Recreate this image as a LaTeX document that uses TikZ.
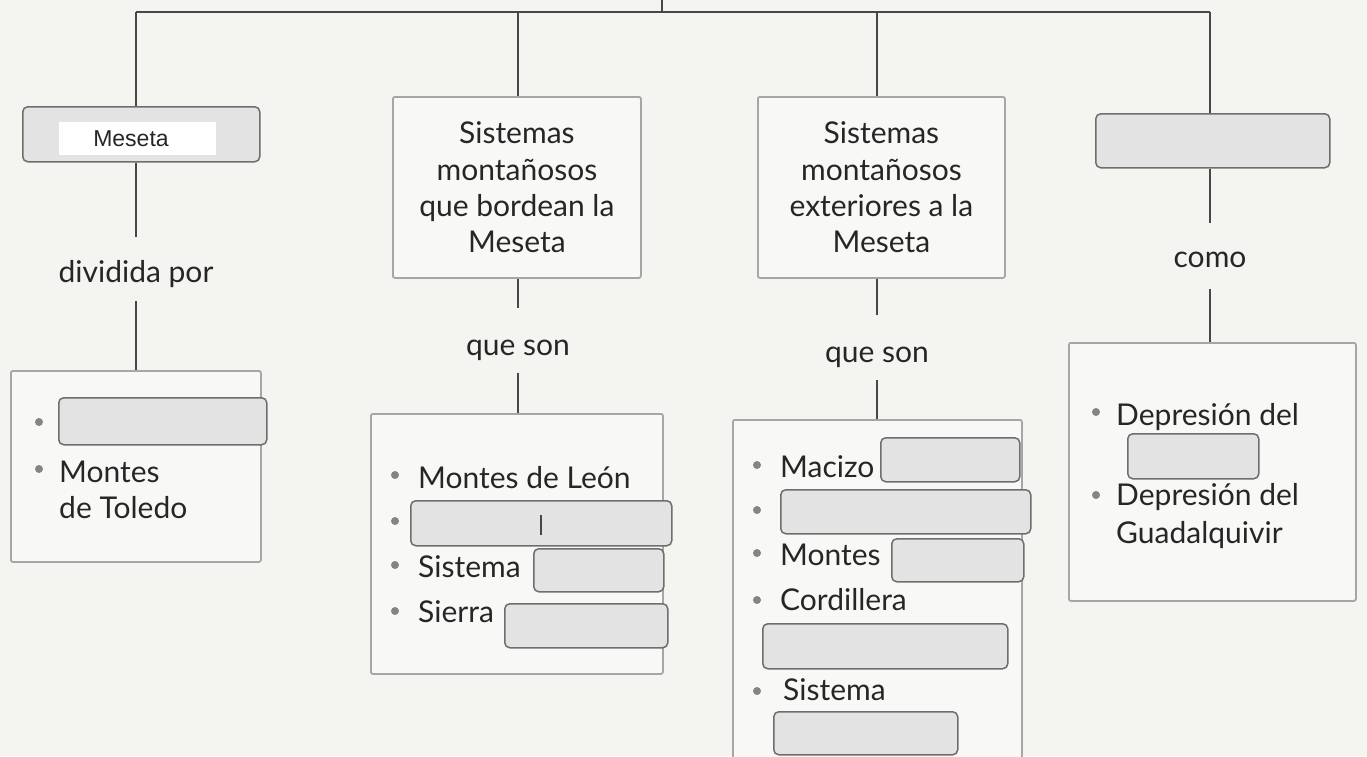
\documentclass[tikz,border=0pt]{standalone}
\usepackage{fontspec}
\setmainfont{Lato}
\newfontfamily\arialf{Liberation Sans}
\definecolor{bgc}{HTML}{F4F5F1}
\definecolor{linec}{HTML}{474747}
\definecolor{framec}{HTML}{A6A6A6}
\definecolor{blankfill}{HTML}{E3E3E3}
\definecolor{blankdraw}{HTML}{6E6E6E}
\definecolor{txtc}{HTML}{262626}
\definecolor{dotc}{HTML}{858585}
\tikzset{
  conn/.style={draw=linec, line width=2.8pt},
  framebox/.style={draw=framec, line width=1.8pt, fill=bgc!60!white, rounded corners=2pt,
    inner sep=0pt, anchor=north west, text=txtc, align=center,
    font=\fontsize{30}{36.3}\selectfont},
  blankbox/.style={draw=blankdraw, fill=blankfill, line width=1.5pt, rounded corners=5pt,
    inner sep=0pt, anchor=north west},
  lab/.style={inner sep=0pt, anchor=base, text=txtc, font=\fontsize{30}{36}\selectfont},
  item/.style={inner sep=0pt, anchor=base west, text=txtc, font=\fontsize{30}{36}\selectfont},
  bul/.style={circle, fill=dotc, inner sep=0pt, minimum size=8pt},
}
\begin{document}
\begin{tikzpicture}[x=1pt,y=-1pt]
\path[use as bounding box, fill=bgc] (0,0) rectangle (1367,756);
\clip (0,0) rectangle (1367,756);

% ---- top row ----
\node[blankbox, minimum width=237pt, minimum height=55pt] (mes) at (22,106) {};
\node[fill=white, inner sep=0pt, anchor=north west, minimum width=157pt, minimum height=33pt] (mesin) at (59,122) {};
\node[inner sep=0pt, anchor=base, text=txtc, font=\arialf\fontsize{23}{26}\selectfont] (mestxt) at (131,146) {Meseta};
\node[framebox, minimum width=248pt, minimum height=181pt] (b2) at (392,96)
  {Sistemas\\montañosos\\que bordean la\\Meseta};
\node[framebox, minimum width=247pt, minimum height=181pt] (b3) at (757,96)
  {Sistemas\\montañosos\\exteriores a la\\Meseta};
\node[blankbox, minimum width=234pt, minimum height=54pt] (b4) at (1095,113) {};

% ---- connectors from the top bar ----
\coordinate (stub) at (662,0);
\coordinate (barL) at (136,12);
\coordinate (barR) at (1210,12);
\coordinate (j2) at (518,12);
\coordinate (j3) at (877,12);
\draw[conn] (stub) -- (stub |- barL);
\draw[conn] (barL) -- (barR);
\draw[conn] (barL) -- (barL |- mes.north);
\draw[conn] (j2) -- (j2 |- b2.north);
\draw[conn] (j3) -- (j3 |- b3.north);
\draw[conn] (barR) -- (barR |- b4.north);

% ---- link labels ----
\node[lab, text height=45pt, text depth=19pt] (lab1) at (136,282) {dividida por};
\node[lab, text height=47pt, text depth=18pt] (lab2) at (518,355) {que son};
\node[lab, text height=47pt, text depth=18pt] (lab3) at (877,362) {que son};
\node[lab, text height=44pt, text depth=22pt] (lab4) at (1210,267) {como};

% ---- bottom boxes ----
\node[framebox, minimum width=250pt, minimum height=191pt] (c1) at (10,370) {};
\node[framebox, minimum width=292pt, minimum height=260pt] (c2) at (370,413) {};
\node[framebox, minimum width=289pt, minimum height=361pt] (c3) at (732,419) {};
\node[framebox, minimum width=287pt, minimum height=258pt] (c4) at (1068,342) {};

\draw[conn] (barL |- mes.south) -- (lab1.north);
\draw[conn] (lab1.south) -- (lab1.south |- c1.north);
\draw[conn] (j2 |- b2.south) -- (lab2.north);
\draw[conn] (lab2.south) -- (lab2.south |- c2.north);
\draw[conn] (j3 |- b3.south) -- (lab3.north);
\draw[conn] (lab3.south) -- (lab3.south |- c3.north);
\draw[conn] (barR |- b4.south) -- (lab4.north);
\draw[conn] (lab4.south) -- (lab4.south |- c4.north);

% ---- box c1 ----
\node[blankbox, minimum width=208pt, minimum height=47pt] (c1a) at (58,397) {};
\node[bul] (d11) at (39,422) {};
\node[bul] (d12) at (39,469) {};
\node[item] (t11) at (59,482) {Montes};
\node[item] (t12) at (59,518) {de Toledo};

% ---- box c2 ----
\node[bul] (d21) at (395,475) {};
\node[item] (t21) at (418,488) {Montes de León};
\node[bul] (d22) at (395,521) {};
\node[blankbox, minimum width=261pt, minimum height=45pt] (c2a) at (410,500) {};
\node[inner sep=0pt, minimum width=2pt, minimum height=20pt, fill=linec, anchor=north] (cur) at (541,515) {};
\node[bul] (d23) at (395,565) {};
\node[item] (t23) at (418,577) {Sistema};
\node[blankbox, minimum width=130pt, minimum height=43pt] (c2b) at (533,548) {};
\node[bul] (d24) at (395,611) {};
\node[item] (t24) at (418,622) {Sierra};
\node[blankbox, minimum width=163pt, minimum height=44pt] (c2c) at (504,603) {};

% ---- box c3 ----
\node[bul] (d31) at (757,465) {};
\node[item] (t31) at (780,477) {Macizo};
\node[blankbox, minimum width=139pt, minimum height=44pt] (c3a) at (880,437) {};
\node[bul] (d32) at (757,510) {};
\node[blankbox, minimum width=250pt, minimum height=44pt] (c3b) at (780,489) {};
\node[bul] (d33) at (757,553) {};
\node[item] (t33) at (780,565) {Montes};
\node[blankbox, minimum width=132pt, minimum height=43pt] (c3c) at (891,538) {};
\node[bul] (d34) at (757,600) {};
\node[item] (t34) at (780,610) {Cordillera};
\node[blankbox, minimum width=245pt, minimum height=45pt] (c3d) at (762,623) {};
\node[bul] (d35) at (757,691) {};
\node[item] (t35) at (783,700) {Sistema};
\node[blankbox, minimum width=184pt, minimum height=43pt] (c3e) at (773,711) {};

% ---- box c4 ----
\node[bul] (d41) at (1096,412) {};
\node[item] (t41) at (1116,425) {Depresión del};
\node[blankbox, minimum width=131pt, minimum height=45pt] (c4a) at (1127,433) {};
\node[bul] (d42) at (1096,495) {};
\node[item] (t42) at (1116,505) {Depresión del};
\node[item] (t43) at (1116,543) {Guadalquivir};
\end{tikzpicture}
\end{document}
